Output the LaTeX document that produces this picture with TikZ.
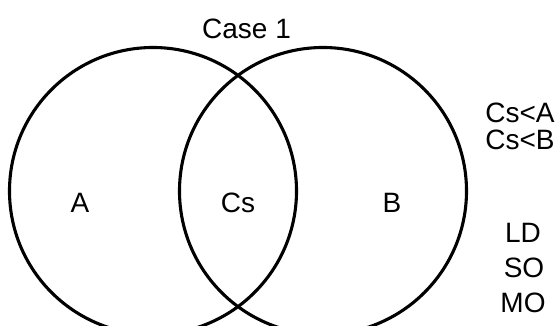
\documentclass[tikz,border=0pt]{standalone}
\usepackage{fontspec}
\setmainfont{Liberation Sans}
\begin{document}
\begin{tikzpicture}[x=1pt,y=-1pt,font=\fontsize{28}{34}\selectfont]
    % Define the radius and the centres of the circles
    \def\circrad{143.5}
    \def\circy{191}
    \def\leftx{153}
    \def\rightx{323}
    \useasboundingbox (0,0) rectangle (557,326);

    % Draw the two sets
    \draw[line width=3.1pt] (\leftx,\circy) circle (\circrad);
    \draw[line width=3.1pt] (\rightx,\circy) circle (\circrad);

    % Labels of the sets
    \node[anchor=base] (title) at (246.5,38.3) {Case 1};
    \node[anchor=base] (setA) at (80,212.8) {A};
    \node[anchor=base] (setCs) at (238,212.8) {Cs};
    \node[anchor=base] (setB) at (392,212.8) {B};

    % Conditions on the right
    \node[anchor=base] (condA) at (520,123) {Cs<A};
    \node[anchor=base] (condB) at (520,149.5) {Cs<B};
    \node[anchor=base] (ld) at (523,242) {LD};
    \node[anchor=base] (so) at (524,277) {SO};
    \node[anchor=base] (mo) at (523,312.5) {MO};
\end{tikzpicture}
\end{document}
